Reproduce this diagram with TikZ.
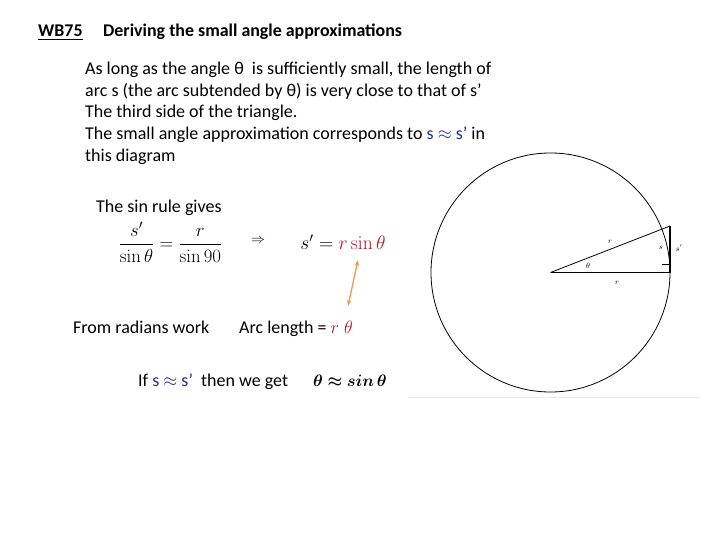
\RequirePackage{fix-cm}
\documentclass[tikz,border=0pt]{standalone}
\usepackage{amsmath,amssymb,bm}
\usepackage[no-math]{fontspec}
\setmainfont{Carlito}
\usepackage{tikz}
\usetikzlibrary{arrows.meta}
\definecolor{mathred}{RGB}{176,28,40}
\definecolor{mathblue}{RGB}{34,40,150}
\definecolor{linkorange}{RGB}{236,152,80}
\tikzset{
  body/.style={anchor=base west,inner sep=0pt,font=\fontsize{18}{22}\selectfont},
  heading/.style={anchor=base west,inner sep=0pt,font=\fontsize{17.9}{20}\bfseries},
  tiny/.style={inner sep=0pt,font=\fontsize{7.5}{8}\selectfont},
  heavy/.style={line width=1.6pt},
}
\begin{document}
\begin{tikzpicture}[x=1pt,y=-1pt,join=round] % Small angle slide
         \useasboundingbox (0,0) rectangle (720,540);
         % heading
         \node[heading] (code) at (38,36.5) {\underline{WB75}};
         \node[heading] (title) at (103,36.5) {Deriving the small angle approximations};
         % explanation
         \node[body] (l1) at (85,75) {As long as the angle θ\ \ is sufficiently small, the length of};
         \node[body] (l2) at (85,97) {arc s (the arc subtended by θ) is very close to that of s’};
         \node[body] (l3) at (85,118) {The third side of the triangle.};
         \node[body] (l4) at (85,140) {The small angle approximation corresponds to \textcolor{mathblue}{s $\approx$ s’} in};
         \node[body] (l5) at (85,162) {this diagram};
         % sine rule
         \node[body] (rule) at (96,212.5) {The sin rule gives};
         \node[inner sep=0pt,font=\fontsize{18.8}{22}\selectfont] (frac) at (170.5,242.5) {$\dfrac{s'}{\sin\theta}=\dfrac{r}{\sin 90}$};
         \node[inner sep=0pt,font=\fontsize{14}{16}\selectfont] (impl) at (258,241) {$\Rightarrow$};
         \node[inner sep=0pt,font=\fontsize{19.5}{22}\selectfont] (sdash) at (343,242) {$s'=\textcolor{mathred}{r\sin\theta}$};
         % radians
         \node[body] (rad) at (73,333) {From radians work};
         \node[body] (arc) at (239,333) {Arc length = $\textcolor{mathred}{r\;\theta}$};
         % conclusion
         \node[body] (if) at (138,386) {If \textcolor{mathblue}{s $\approx$ s’}\ \ then we get};
         \node[anchor=base west,inner sep=0pt,font=\fontsize{16.5}{18}\selectfont] (res) at (313,386) {$\bm{\theta\approx sin\,\theta}$};
         % link between the two results
         \coordinate (up) at (358,260);
         \coordinate (down) at (348,306);
         \draw[linkorange,line width=1.3pt,{Stealth[length=6pt]}-{Stealth[length=6pt]}] (up) -- (down);
         % circle and triangle
         \coordinate (O) at (550.5,272.5);
         \coordinate (A) at (670,272.5);
         \coordinate (B) at (670,226);
         \draw[line width=0.8pt] (O) circle (119.5);
         \draw[line width=0.8pt] (O) -- (B);
         \draw[heavy] (O) -- (A) -- (B);
         \draw[line width=0.6pt] (662,264) -- (670,264);
         \node[tiny] (hyp) at (610,241.5) {$r$};
         \node[tiny] (ang) at (588,266) {$\theta$};
         \node[tiny] (base) at (617,283) {$r$};
         \node[tiny] (arcs) at (661,248) {$s$};
         \node[tiny] (side) at (679,248) {$s'$};
         \draw[black!8,line width=0.8pt] (408,397.5) -- (700,397.5);
\end{tikzpicture}
\end{document}
